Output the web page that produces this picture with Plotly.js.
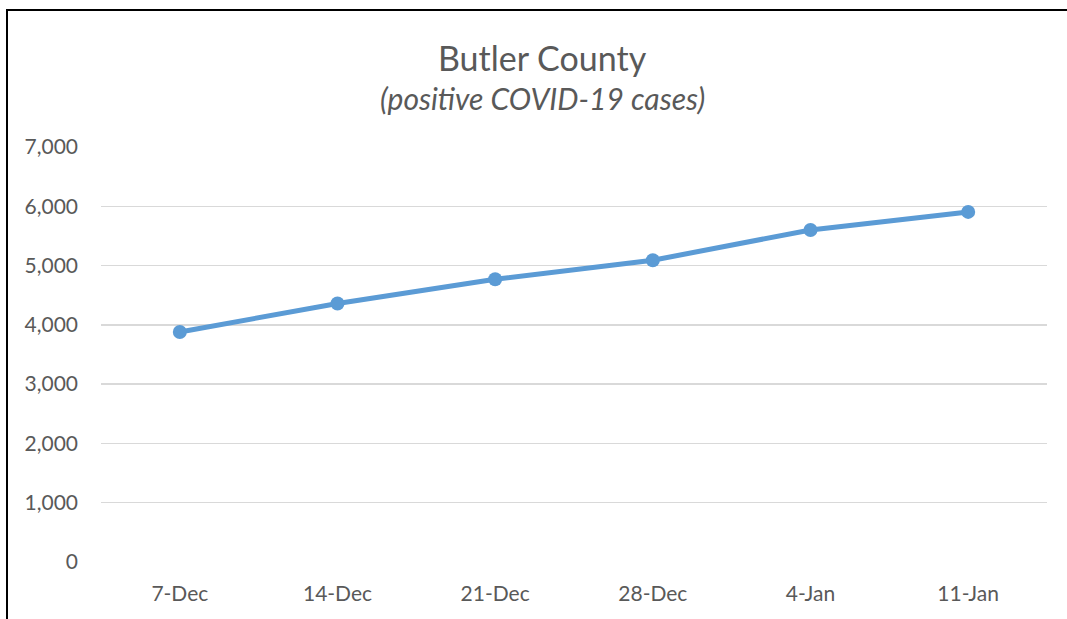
<!DOCTYPE html>
<html>
<head>
<meta charset="utf-8">
<script src="https://cdn.plot.ly/plotly-3.0.1.min.js"></script>
<style>
  html, body { margin: 0; padding: 0; background: #fff; }
  #wrap { position: relative; width: 1067px; height: 619px; overflow: hidden; }
  #chart { position: absolute; left: 0; top: 0; width: 1067px; height: 619px; }
  #bl { position: absolute; left: 6px; top: 9px; width: 2px; height: 620px; background: #000; }
  #bt { position: absolute; left: 6px; top: 9px; width: 1070px; height: 2px; background: #000; }
</style>
</head>
<body>
<div id="wrap">
  <div id="chart"></div>
  <div id="bl"></div>
  <div id="bt"></div>
</div>
<script>
const categories = ["7-Dec", "14-Dec", "21-Dec", "28-Dec", "4-Jan", "11-Jan"];
const cases = [3880, 4360, 4770, 5090, 5600, 5905];
const yTicks = [0, 1000, 2000, 3000, 4000, 5000, 6000, 7000];
const yTickLabels = ["0", "1,000", "2,000", "3,000", "4,000", "5,000", "6,000", "7,000"];
const titleText = "Butler County";
const subtitleText = "(positive COVID-19 cases)";

const font = "Lato, 'Open Sans', sans-serif";
const grey = "#595959";

Plotly.newPlot("chart", [{
  x: categories,
  y: cases,
  type: "scatter",
  mode: "lines+markers",
  line: { color: "#5B9BD5", width: 5 },
  marker: { color: "#5B9BD5", size: 14 },
  hoverinfo: "skip"
}], {
  width: 1067,
  height: 619,
  margin: { l: 101, r: 20, t: 147, b: 57 },
  paper_bgcolor: "#fff",
  plot_bgcolor: "#fff",
  showlegend: false,
  font: { family: font, color: grey, size: 21 },
  xaxis: {
    type: "category",
    range: [-0.5, 5.5],
    showgrid: false,
    zeroline: false,
    showline: false,
    ticks: "",
    tickfont: { family: font, color: grey, size: 21 },
    ticklabelstandoff: 17,
    fixedrange: true
  },
  yaxis: {
    range: [0, 7000],
    tickvals: yTicks,
    ticktext: yTickLabels,
    showgrid: true,
    gridcolor: "#d9d9d9",
    gridwidth: 1.5,
    zeroline: false,
    showline: false,
    ticks: "",
    tickfont: { family: font, color: grey, size: 21 },
    ticklabelstandoff: 22,
    fixedrange: true
  },
  annotations: [
    { text: titleText, xref: "paper", yref: "paper", x: 0.467, y: 1, yshift: 90,
      xanchor: "center", yanchor: "middle", showarrow: false,
      font: { family: font, size: 34, color: grey } },
    { text: "<i>" + subtitleText + "</i>", xref: "paper", yref: "paper", x: 0.467, y: 1, yshift: 49,
      xanchor: "center", yanchor: "middle", showarrow: false,
      font: { family: font, size: 30, color: grey } }
  ]
}, { displayModeBar: false, staticPlot: true });
</script>
</body>
</html>
